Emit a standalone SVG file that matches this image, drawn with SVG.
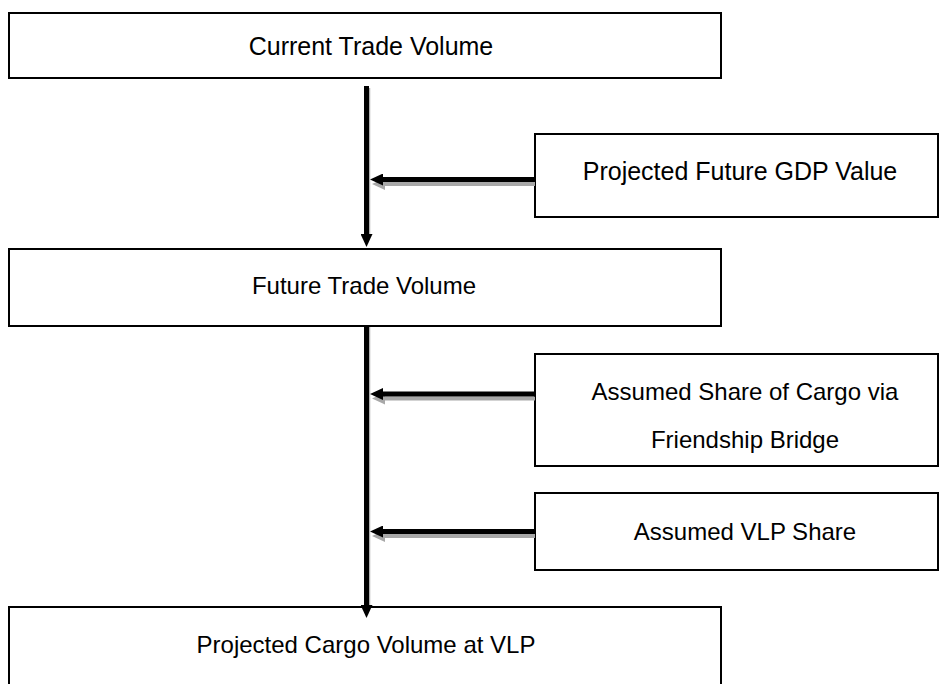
<svg xmlns="http://www.w3.org/2000/svg" width="944" height="684" viewBox="0 0 944 684">
<style>
.box{fill:#fff;stroke:#000;stroke-width:2}
.lbl{font-family:"Liberation Sans",Arial,sans-serif;font-size:24px;fill:#000;text-anchor:middle}
.big{font-size:25px}
.ln{stroke:#000;stroke-width:5;fill:none}
.sh{stroke:#a8a8a8;stroke-width:4;fill:none}
.vsh{stroke:#b0b0b0;stroke-width:1.5;fill:none}
</style>
<defs>
<marker id="ah" markerUnits="userSpaceOnUse" viewBox="0 0 13 12" refX="0" refY="6" markerWidth="13" markerHeight="12" orient="auto">
<path d="M0,0 L13,6 L0,12 z" fill="#000"/>
</marker>
<marker id="ahs" markerUnits="userSpaceOnUse" viewBox="0 0 13 12" refX="0" refY="6" markerWidth="13" markerHeight="12" orient="auto">
<path d="M0,0 L13,6 L0,12 z" fill="#a8a8a8"/>
</marker>
</defs>
<rect width="944" height="684" fill="#fff"/>
<g id="current">
<rect class="box" x="9" y="13" width="712" height="65"/>
<text class="lbl big" x="371" y="55">Current Trade Volume</text>
</g>
<g id="gdp">
<rect class="box" x="535" y="134" width="403" height="83"/>
<text class="lbl big" x="740" y="180">Projected Future GDP Value</text>
</g>
<g id="future">
<rect class="box" x="9" y="249" width="712" height="77"/>
<text class="lbl" x="364" y="294">Future Trade Volume</text>
</g>
<g id="share">
<rect class="box" x="535" y="354" width="403" height="112"/>
<text class="lbl" x="745" y="400">Assumed Share of Cargo via</text>
<text class="lbl" x="745" y="448">Friendship Bridge</text>
</g>
<g id="vlpshare">
<rect class="box" x="535" y="493" width="403" height="77"/>
<text class="lbl" x="745" y="540">Assumed VLP Share</text>
</g>
<g id="cargo">
<rect class="box" x="9" y="607" width="712" height="100"/>
<text class="lbl" x="366" y="653">Projected Cargo Volume at VLP</text>
</g>
<g id="connectors">
<line class="vsh" x1="369.5" y1="88" x2="369.5" y2="236"/>
<line class="ln" x1="366.5" y1="86" x2="366.5" y2="234" marker-end="url(#ah)"/>
<line class="sh" x1="535" y1="184" x2="385" y2="184" marker-end="url(#ahs)"/>
<line class="ln" x1="535" y1="179.5" x2="383" y2="179.5" marker-end="url(#ah)"/>
<line class="vsh" x1="369.5" y1="327" x2="369.5" y2="606"/>
<line class="ln" x1="366.5" y1="326" x2="366.5" y2="605" marker-end="url(#ah)"/>
<line class="sh" x1="535" y1="398.5" x2="385" y2="398.5" marker-end="url(#ahs)"/>
<line class="ln" x1="535" y1="394" x2="383" y2="394" marker-end="url(#ah)"/>
<line class="sh" x1="535" y1="536" x2="385" y2="536" marker-end="url(#ahs)"/>
<line class="ln" x1="535" y1="531.5" x2="383" y2="531.5" marker-end="url(#ah)"/>
</g>
</svg>
